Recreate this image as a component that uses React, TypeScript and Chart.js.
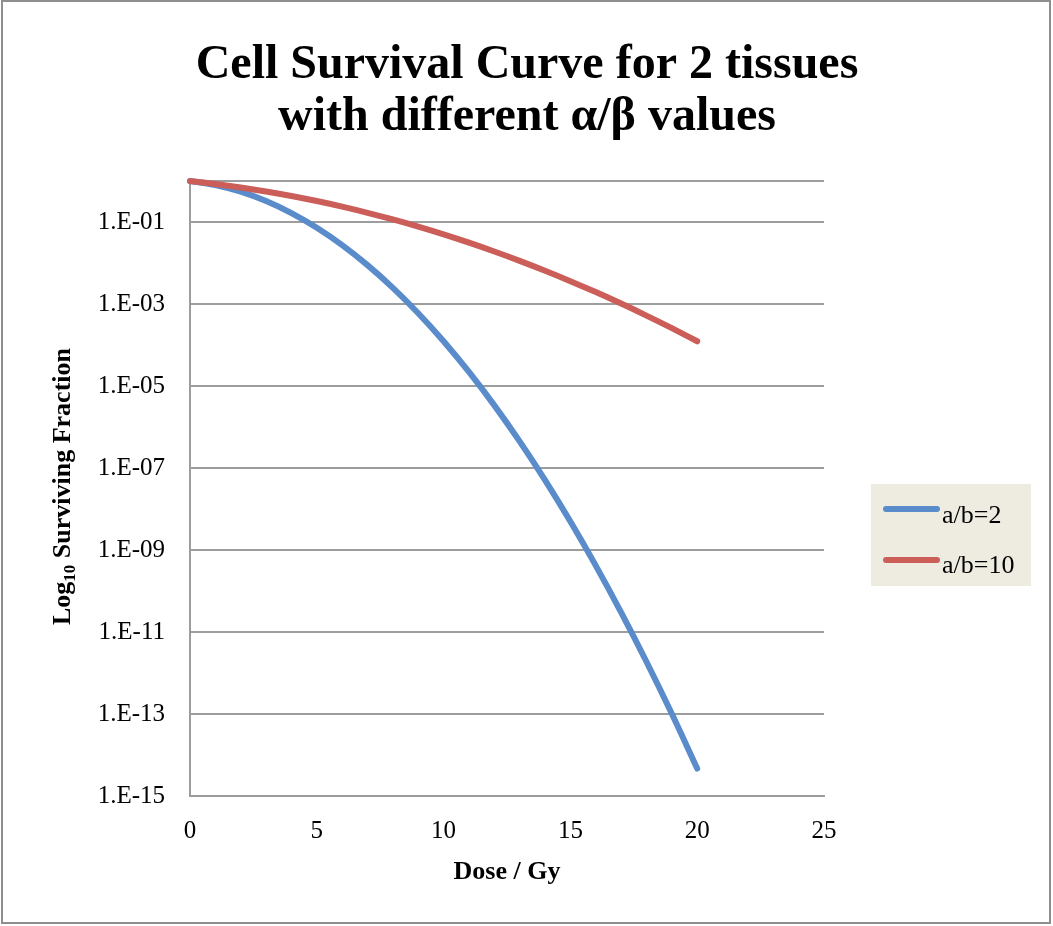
import React, { useEffect, useRef } from 'react';
import { Chart, registerables } from 'chart.js';

Chart.register(...registerables);

const titleLines = ['Cell Survival Curve for 2 tissues', 'with different α/β values'];
const xAxisTitle = 'Dose / Gy';
const yAxisTitleParts = ['Log', '10', ' Surviving Fraction'];
const seriesLabels = ['a/b=2', 'a/b=10'];
const seriesColors = ['#5A8BCA', '#CC5E59'];

const doses = [0, 1, 2, 3, 4, 5, 6, 7, 8, 9, 10, 11, 12, 13, 14, 15, 16, 17, 18, 19, 20];
const survivalAB2 = [
  1, 0.7985, 0.5488, 0.3247, 0.1653, 0.07244, 0.02732, 0.008871, 0.002479, 5.96e-4,
  1.234e-4, 2.198e-5, 3.37e-6, 4.45e-7, 5.06e-8, 4.94e-9, 4.16e-10, 3.01e-11, 1.88e-12, 1.01e-13, 4.66e-15,
];
const survivalAB10 = [
  1, 0.8479, 0.6977, 0.5571, 0.4317, 0.3247, 0.2369, 0.1678, 0.1153, 0.07691,
  0.04979, 0.03127, 0.01906, 0.01128, 0.006474, 0.003607, 0.00195, 0.001023, 5.21e-4, 2.574e-4, 1.234e-4,
];

const yTickValues = [1e-15, 1e-13, 1e-11, 1e-9, 1e-7, 1e-5, 1e-3, 1e-1, 1];
const xTickStep = 5;
const xMin = 0;
const xMax = 25;
const yMin = 1e-15;
const yMax = 1;

const FONT = "'Liberation Serif', 'Times New Roman', serif";
const GRID = '#9d9d9d';

function formatTick(v: number): string {
  if (v >= 1) return '';
  const e = Math.round(Math.log10(v));
  return '1.E-' + String(-e).padStart(2, '0');
}

const decorPlugin = {
  id: 'decor',
  beforeDraw(chart: any) {
    const ctx = chart.ctx as CanvasRenderingContext2D;
    ctx.save();
    ctx.fillStyle = '#ffffff';
    ctx.fillRect(0, 0, chart.width, chart.height);
    ctx.restore();
  },
  afterDraw(chart: any) {
    const ctx = chart.ctx as CanvasRenderingContext2D;
    const area = chart.chartArea;
    ctx.save();
    // outer border
    ctx.strokeStyle = '#8e8e8e';
    ctx.lineWidth = 2;
    ctx.strokeRect(2, 1, 1048, 922);

    // title
    ctx.fillStyle = '#000000';
    ctx.textAlign = 'center';
    ctx.textBaseline = 'alphabetic';
    ctx.font = `bold 48px ${FONT}`;
    ctx.fillText(titleLines[0], 527, 78);
    ctx.fillText(titleLines[1], 527, 130);

    // x axis title
    ctx.font = `bold 26px ${FONT}`;
    ctx.fillText(xAxisTitle, (area.left + area.right) / 2, 879);

    // y axis title with subscript
    ctx.save();
    ctx.translate(70, (area.top + area.bottom) / 2 - 2);
    ctx.rotate(-Math.PI / 2);
    ctx.textAlign = 'left';
    const mainFont = `bold 26px ${FONT}`;
    const subFont = `bold 17px ${FONT}`;
    ctx.font = mainFont;
    const w0 = ctx.measureText(yAxisTitleParts[0]).width;
    const w2 = ctx.measureText(yAxisTitleParts[2]).width;
    ctx.font = subFont;
    const w1 = ctx.measureText(yAxisTitleParts[1]).width;
    let x = -(w0 + w1 + w2) / 2;
    ctx.font = mainFont;
    ctx.fillText(yAxisTitleParts[0], x, 0);
    x += w0;
    ctx.font = subFont;
    ctx.fillText(yAxisTitleParts[1], x, 5);
    x += w1;
    ctx.font = mainFont;
    ctx.fillText(yAxisTitleParts[2], x, 0);
    ctx.restore();

    // legend
    ctx.fillStyle = '#EEECE1';
    ctx.fillRect(871, 484, 160, 102);
    const rows = [509, 560];
    const baselines = [523, 573];
    ctx.lineCap = 'round';
    ctx.lineWidth = 6;
    ctx.textAlign = 'left';
    ctx.font = `26px ${FONT}`;
    for (let i = 0; i < seriesLabels.length; i++) {
      ctx.strokeStyle = seriesColors[i];
      ctx.beginPath();
      ctx.moveTo(886, rows[i]);
      ctx.lineTo(937, rows[i]);
      ctx.stroke();
      ctx.fillStyle = '#000000';
      ctx.fillText(seriesLabels[i], 942, baselines[i]);
    }
    ctx.restore();
  },
};

export default function App() {
  const canvasRef = useRef<HTMLCanvasElement | null>(null);

  useEffect(() => {
    if (!canvasRef.current) return;
    const makePoints = (ys: number[]) => doses.map((d, i) => ({ x: d, y: ys[i] }));
    const chart = new Chart(canvasRef.current, {
      type: 'line',
      data: {
        datasets: [
          {
            label: seriesLabels[0],
            data: makePoints(survivalAB2),
            borderColor: seriesColors[0],
            backgroundColor: seriesColors[0],
            borderWidth: 6,
            pointRadius: 0,
            cubicInterpolationMode: 'monotone',
            borderCapStyle: 'round',
            borderJoinStyle: 'round',
            clip: false,
            order: 1,
          },
          {
            label: seriesLabels[1],
            data: makePoints(survivalAB10),
            borderColor: seriesColors[1],
            backgroundColor: seriesColors[1],
            borderWidth: 6,
            pointRadius: 0,
            cubicInterpolationMode: 'monotone',
            borderCapStyle: 'round',
            borderJoinStyle: 'round',
            clip: false,
            order: 0,
          },
        ],
      },
      options: {
        animation: false,
        responsive: false,
        maintainAspectRatio: false,
        layout: { padding: { top: 181, left: 0, right: 229, bottom: 0 } },
        plugins: {
          legend: { display: false },
          title: { display: false },
          tooltip: { enabled: false },
        },
        scales: {
          x: {
            type: 'linear',
            min: xMin,
            max: xMax,
            ticks: {
              stepSize: xTickStep,
              color: '#000000',
              font: { family: FONT, size: 25 },
              padding: 20,
              maxRotation: 0,
            },
            grid: { display: false, drawTicks: false },
            border: { display: true, color: GRID, width: 2 },
            afterFit: (s: any) => {
              s.height = 130;
            },
          },
          y: {
            type: 'logarithmic',
            min: yMin,
            max: yMax,
            afterBuildTicks: (s: any) => {
              s.ticks = yTickValues.map((v) => ({ value: v }));
            },
            ticks: {
              color: '#000000',
              font: { family: FONT, size: 25 },
              padding: 25,
              autoSkip: false,
              callback: (v: any) => formatTick(Number(v)),
            },
            grid: { color: GRID, lineWidth: 2, drawTicks: false },
            border: { display: true, color: GRID, width: 2 },
            afterFit: (s: any) => {
              s.width = 190;
            },
          },
        },
      },
      plugins: [decorPlugin],
    });
    return () => chart.destroy();
  }, []);

  return (
    <div style={{ position: 'absolute', left: 0, top: 0, width: 1053, height: 926 }}>
      <canvas ref={canvasRef} width={1053} height={926} style={{ display: 'block' }} />
    </div>
  );
}
